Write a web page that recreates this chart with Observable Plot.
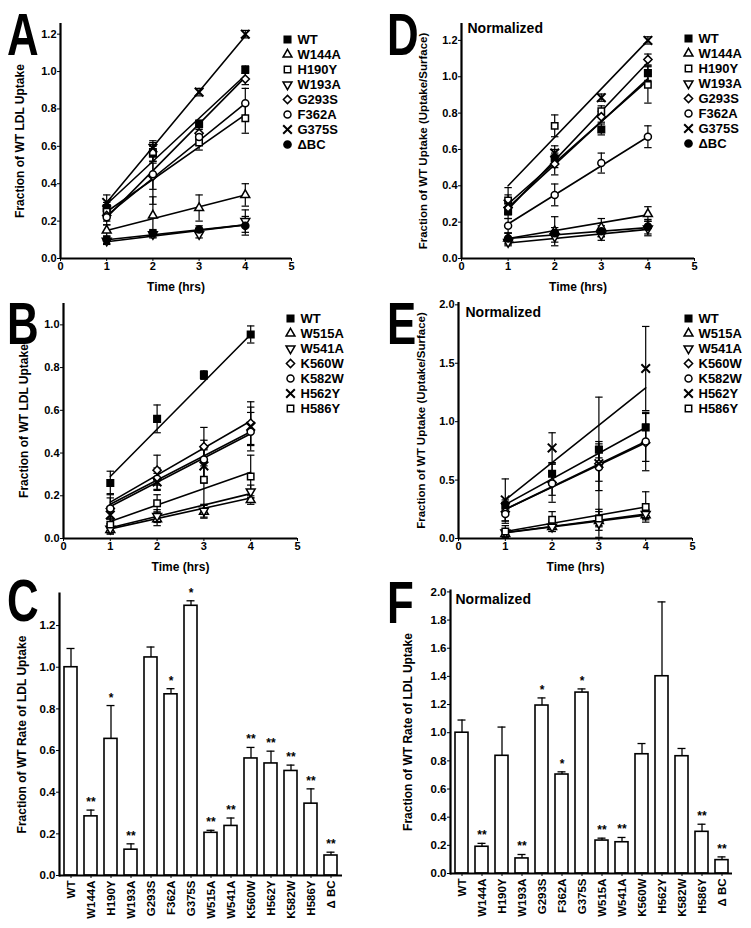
<!DOCTYPE html>
<html><head><meta charset="utf-8">
<script src="https://cdn.jsdelivr.net/npm/d3@7"></script>
<script src="https://cdn.jsdelivr.net/npm/@observablehq/plot@0.6"></script>
<style>
body{margin:0;background:#fff;}
#fig{position:relative;width:751px;height:928px;overflow:hidden;background:#fff;font-family:"Liberation Sans",Arial,sans-serif;}
.letter{position:absolute;font-weight:bold;font-size:60px;line-height:normal;transform-origin:0 0;transform:scaleX(0.73);color:#000;}
</style></head>
<body><div id="fig"></div>
<script>
// ---------------- DATA ----------------
const times = [1, 2, 3, 4];
const timeTicks = [0, 1, 2, 3, 4, 5];

// Panel A: Fraction of WT LDL uptake
const seriesA = ["WT", "W144A", "H190Y", "W193A", "G293S", "F362A", "G375S", "ΔBC"];
const meanA = [
  [0.27, 0.56, 0.72, 1.01],
  [0.15, 0.23, 0.27, 0.34],
  [0.25, 0.57, 0.62, 0.75],
  [0.095, 0.13, 0.13, 0.20],
  [0.23, 0.44, 0.67, 0.96],
  [0.22, 0.45, 0.65, 0.83],
  [0.30, 0.59, 0.89, 1.20],
  [0.10, 0.135, 0.155, 0.175]
];
const errA = [
  [0.03, 0.04, 0.02, 0.02],
  [0.03, 0.10, 0.07, 0.06],
  [0.03, 0.05, 0.04, 0.08],
  [0.02, 0.02, 0.02, 0.06],
  [0.03, 0.07, 0.03, 0.03],
  [0.04, 0.16, 0.04, 0.08],
  [0.04, 0.04, 0.02, 0.02],
  [0.02, 0.02, 0.02, 0.05]
];
const fitA = [
  [0.29, 0.98], [0.15, 0.34], [0.25, 0.77], [0.09, 0.18],
  [0.22, 0.97], [0.23, 0.83], [0.30, 1.19], [0.10, 0.18]
];
const yTicksA = [0, 0.2, 0.4, 0.6, 0.8, 1.0, 1.2];

// Panel D: normalized
const seriesD = ["WT", "W144A", "H190Y", "W193A", "G293S", "F362A", "G375S", "ΔBC"];
const meanD = [
  [0.26, 0.55, 0.71, 1.02],
  [0.11, 0.15, 0.17, 0.245],
  [0.32, 0.73, 0.81, 0.955],
  [0.09, 0.12, 0.13, 0.165],
  [0.28, 0.52, 0.78, 1.095],
  [0.18, 0.35, 0.525, 0.67],
  [0.30, 0.58, 0.885, 1.20],
  [0.11, 0.14, 0.15, 0.175]
];
const errD = [
  [0.04, 0.05, 0.03, 0.04],
  [0.03, 0.08, 0.05, 0.04],
  [0.07, 0.06, 0.03, 0.10],
  [0.02, 0.03, 0.03, 0.04],
  [0.04, 0.06, 0.03, 0.03],
  [0.04, 0.06, 0.055, 0.06],
  [0.05, 0.04, 0.02, 0.02],
  [0.03, 0.03, 0.03, 0.04]
];
const fitD = [
  [0.28, 0.99], [0.11, 0.24], [0.30, 0.98], [0.085, 0.16],
  [0.27, 1.08], [0.19, 0.67], [0.40, 1.20], [0.11, 0.17]
];
const yTicksD = [0, 0.2, 0.4, 0.6, 0.8, 1.0, 1.2];

// Panel B
const seriesB = ["WT", "W515A", "W541A", "K560W", "K582W", "H562Y", "H586Y"];
const meanB = [
  [0.26, 0.56, 0.765, 0.955],
  [0.04, 0.09, 0.125, 0.18],
  [0.045, 0.105, 0.13, 0.22],
  [0.14, 0.32, 0.43, 0.54],
  [0.14, 0.28, 0.37, 0.50],
  [0.11, 0.265, 0.34, 0.525],
  [0.065, 0.165, 0.275, 0.29]
];
const errB = [
  [0.055, 0.065, 0.02, 0.04],
  [0.02, 0.03, 0.03, 0.02],
  [0.02, 0.03, 0.03, 0.03],
  [0.07, 0.07, 0.09, 0.10],
  [0.05, 0.05, 0.09, 0.09],
  [0.04, 0.04, 0.08, 0.09],
  [0.03, 0.04, 0.14, 0.10]
];
const fitB = [
  [0.29, 0.955], [0.045, 0.19], [0.05, 0.21], [0.17, 0.55],
  [0.16, 0.50], [0.15, 0.49], [0.08, 0.31]
];
const yTicksB = [0, 0.2, 0.4, 0.6, 0.8, 1.0];

// Panel E: normalized
const seriesE = ["WT", "W515A", "W541A", "K560W", "K582W", "H562Y", "H586Y"];
const meanE = [
  [0.28, 0.555, 0.76, 0.95],
  [0.04, 0.10, 0.15, 0.20],
  [0.05, 0.10, 0.13, 0.21],
  [0.23, 0.48, 0.64, 0.82],
  [0.21, 0.47, 0.61, 0.83],
  [0.33, 0.775, 0.64, 1.455],
  [0.06, 0.16, 0.17, 0.27]
];
const errE = [
  [0.05, 0.08, 0.07, 0.12],
  [0.02, 0.04, 0.05, 0.04],
  [0.02, 0.04, 0.12, 0.04],
  [0.08, 0.17, 0.15, 0.16],
  [0.08, 0.10, 0.20, 0.25],
  [0.18, 0.13, 0.57, 0.36],
  [0.05, 0.07, 0.06, 0.13]
];
const fitE = [
  [0.29, 0.95], [0.05, 0.21], [0.05, 0.20], [0.25, 0.83],
  [0.25, 0.82], [0.33, 1.29], [0.06, 0.27]
];
const yTicksE = [0, 0.5, 1.0, 1.5, 2.0];

// Panels C & F: rates
const mutants = ["WT", "W144A", "H190Y", "W193A", "G293S", "F362A", "G375S", "W515A", "W541A", "K560W", "H562Y", "K582W", "H586Y", "Δ BC"];
const rateC = [1.00, 0.284, 0.656, 0.124, 1.047, 0.870, 1.295, 0.205, 0.238, 0.562, 0.538, 0.502, 0.345, 0.096];
const errC  = [0.09, 0.03, 0.16, 0.028, 0.05, 0.027, 0.024, 0.012, 0.038, 0.053, 0.059, 0.028, 0.071, 0.016];
const starsC = ["", "**", "*", "**", "", "*", "*", "**", "**", "**", "**", "**", "**", "**"];
const yTicksC = [0, 0.2, 0.4, 0.6, 0.8, 1.0, 1.2];
const rateF = [1.00, 0.19, 0.836, 0.107, 1.193, 0.703, 1.285, 0.234, 0.222, 0.847, 1.401, 0.833, 0.296, 0.095];
const errF  = [0.09, 0.024, 0.204, 0.028, 0.054, 0.019, 0.026, 0.017, 0.034, 0.076, 0.528, 0.055, 0.054, 0.023];
const starsF = ["", "**", "", "**", "*", "*", "*", "**", "**", "", "", "", "**", "**"];
const yTicksF = [0, 0.2, 0.4, 0.6, 0.8, 1.0, 1.2, 1.4, 1.6, 1.8, 2.0];

// ---------------- STYLE ----------------
const FONT = "'Liberation Sans', Arial, Helvetica, sans-serif";
const triDown = {draw(ctx, size) {
  const y = -Math.sqrt(size / (Math.sqrt(3) * 3));
  ctx.moveTo(0, -y * 2);
  ctx.lineTo(-Math.sqrt(3) * y, y);
  ctx.lineTo(Math.sqrt(3) * y, y);
  ctx.closePath();
}};
const capSym = {draw(ctx, size) {
  const w = Math.sqrt(size) / 2;
  ctx.moveTo(-w, 0); ctx.lineTo(w, 0);
}};
const markerStyle = {
  "WT":    {symbol: "square", fill: "black", r: 3.7},
  "W144A": {symbol: "triangle", fill: "white", r: 3.3},
  "H190Y": {symbol: "square", fill: "white", r: 3.6},
  "W193A": {symbol: triDown, fill: "white", r: 3.3},
  "G293S": {symbol: "diamond2", fill: "white", r: 3.7},
  "F362A": {symbol: "circle", fill: "white", r: 3.5},
  "G375S": {symbol: "times", fill: "none", r: 4.0},
  "ΔBC":   {symbol: "circle", fill: "black", r: 3.6},
  "W515A": {symbol: "triangle", fill: "white", r: 3.3},
  "W541A": {symbol: triDown, fill: "white", r: 3.3},
  "K560W": {symbol: "diamond2", fill: "white", r: 3.7},
  "K582W": {symbol: "circle", fill: "white", r: 3.5},
  "H562Y": {symbol: "times", fill: "none", r: 4.0},
  "H586Y": {symbol: "square", fill: "white", r: 3.6}
};

const fig = document.getElementById("fig");
function place(el, left, top) {
  el.style.position = "absolute";
  el.style.left = left + "px";
  el.style.top = top + "px";
  fig.appendChild(el);
}
function letter(ch, left, top) {
  const d = document.createElement("div");
  d.className = "letter";
  d.textContent = ch;
  d.style.left = left + "px";
  d.style.top = top + "px";
  fig.appendChild(d);
}
const baseStyle = {fontFamily: FONT, fontSize: "11px", fontWeight: "bold", background: "transparent", overflow: "visible", color: "black"};

function yAxes(ticks, label, offset, tickFont, labelFont) {
  return [
    Plot.axisY({ticks, tickFormat: d3.format(".1f"), tickSize: 3, tickPadding: 1, label: null, fontSize: tickFont}),
    Plot.axisY({ticks: [], tickSize: 0, label, labelAnchor: "center", labelArrow: "none", labelOffset: offset, fontSize: labelFont})
  ];
}

function linePanel(c) {
  const pts = [], fits = [];
  c.series.forEach((s, i) => {
    times.forEach((t, j) => pts.push({s, t, v: c.mean[i][j], e: c.err[i][j]}));
    fits.push({s, t: times[0], v: c.fit[i][0]}, {s, t: times[times.length - 1], v: c.fit[i][1]});
  });
  const marks = [
    Plot.ruleX(pts, {x: "t", y1: d => d.v - d.e, y2: d => d.v + d.e, stroke: "black", strokeWidth: 1.2}),
    Plot.dot(pts, {x: "t", y: d => d.v + d.e, symbol: capSym, r: 4.2, stroke: "black", fill: "none", strokeWidth: 1.2}),
    Plot.dot(pts, {x: "t", y: d => d.v - d.e, symbol: capSym, r: 4.2, stroke: "black", fill: "none", strokeWidth: 1.2}),
    Plot.line(fits, {x: "t", y: "v", z: "s", stroke: "black", strokeWidth: 1.6}),
    ...c.series.map(s => {
      const st = markerStyle[s];
      return Plot.dot(pts.filter(d => d.s === s), {x: "t", y: "v", symbol: st.symbol, r: st.r, fill: st.fill, stroke: "black", strokeWidth: st.fill === "none" ? 2 : 1.5});
    }),
    Plot.ruleX([0], {stroke: "black", strokeWidth: 2.2}),
    Plot.ruleY([0], {stroke: "black", strokeWidth: 2.2}),
    Plot.axisX({ticks: timeTicks, tickFormat: d3.format("d"), tickSize: 3, tickPadding: 1, label: null, fontSize: 11}),
    Plot.axisX({ticks: [], tickSize: 0, label: "Time (hrs)", labelAnchor: "center", labelArrow: "none", labelOffset: c.xLabelOffset, fontSize: 12}),
    ...yAxes(c.yTicks, c.yLabel, c.yLabelOffset, 11, c.yLabelFont || 12)
  ];
  if (c.note) marks.push(Plot.text([c.note], {frameAnchor: "top-left", dx: c.noteDx, dy: c.noteDy, textAnchor: "start", lineAnchor: "middle", fontSize: 14, fontWeight: "bold"}));
  const svg = Plot.plot({
    width: c.width, height: c.height,
    marginLeft: c.ml, marginRight: c.mr, marginTop: c.mt, marginBottom: c.mb,
    x: {domain: [0, 5]}, y: {domain: c.yDomain},
    style: baseStyle, marks
  });
  place(svg, c.left, c.top);
}

function legendPanel(series, left, top, width, height) {
  const svg = Plot.plot({
    width, height, marginLeft: 8, marginRight: 0, marginTop: 8, marginBottom: 8,
    x: {domain: [0, 1], axis: null}, y: {type: "point", domain: series, axis: null},
    style: {...baseStyle, fontSize: "13px"},
    marks: [
      ...series.map(s => {
        const st = markerStyle[s];
        return Plot.dot([s], {x: () => 0, y: d => d, symbol: st.symbol, r: st.r, fill: st.fill, stroke: "black", strokeWidth: st.fill === "none" ? 2 : 1.5});
      }),
      Plot.text(series, {x: () => 0, y: d => d, text: d => d, dx: 10, textAnchor: "start", fontSize: 13, fontWeight: "bold"})
    ]
  });
  place(svg, left, top);
}

function barPanel(c) {
  const data = mutants.map((m, i) => ({m, v: c.rate[i], e: c.err[i], s: c.stars[i]}));
  const marks = [
    Plot.barY(data, {x: "m", y: "v", fill: "white", stroke: "black", strokeWidth: 1.6}),
    Plot.ruleX(data, {x: "m", y1: "v", y2: d => d.v + d.e, stroke: "black", strokeWidth: 1.3}),
    Plot.tickY(data, {x: "m", y: d => d.v + d.e, insetLeft: 2.5, insetRight: 2.5, stroke: "black", strokeWidth: 1.3}),
    Plot.text(data, {x: "m", y: d => d.v + d.e, text: "s", dy: -4, lineAnchor: "bottom", fontSize: 12, fontWeight: "bold"}),
    Plot.ruleY([0], {stroke: "black", strokeWidth: 2.2}),
    Plot.frame({anchor: "left", stroke: "black", strokeWidth: 2.2}),
    Plot.axisX({tickRotate: -90, tickSize: 3, tickPadding: 2, label: null, fontSize: 11.5}),
    ...yAxes(c.yTicks, "Fraction of WT Rate of LDL Uptake", c.yLabelOffset, 11.5, 12)
  ];
  if (c.note) marks.push(Plot.text([c.note], {frameAnchor: "top-left", dx: c.noteDx, dy: c.noteDy, textAnchor: "start", lineAnchor: "middle", fontSize: 14, fontWeight: "bold"}));
  const svg = Plot.plot({
    width: c.width, height: c.height,
    marginLeft: c.ml, marginRight: c.mr, marginTop: c.mt, marginBottom: c.mb,
    x: {domain: mutants, paddingInner: 0.35, paddingOuter: 0.18},
    y: {domain: c.yDomain},
    style: {...baseStyle, fontSize: "11.5px"}, marks
  });
  place(svg, c.left, c.top);
}

// ---------------- BUILD ----------------
linePanel({series: seriesA, mean: meanA, err: errA, fit: fitA, yTicks: yTicksA, yDomain: [0, 1.257],
  yLabel: "Fraction of WT LDL Uptake", left: 0, top: 0, width: 300, height: 300,
  ml: 60, mr: 9, mt: 23, mb: 42, xLabelOffset: 32, yLabelOffset: 45});
legendPanel(seriesA, 279, 22, 100, 139);

linePanel({series: seriesD, mean: meanD, err: errD, fit: fitD, yTicks: yTicksD, yDomain: [0, 1.293],
  yLabel: "Fraction of WT Uptake (Uptake/Surface)", left: 380, top: 0, width: 330, height: 300,
  ml: 81, mr: 16, mt: 23, mb: 42, xLabelOffset: 32, yLabelOffset: 43, yLabelFont: 11.5,
  note: "Normalized", noteDx: 6, noteDy: 5});
legendPanel(seriesD, 680, 20, 71, 140);

linePanel({series: seriesB, mean: meanB, err: errB, fit: fitB, yTicks: yTicksB, yDomain: [0, 1.1],
  yLabel: "Fraction of WT LDL Uptake", left: 0, top: 290, width: 300, height: 290,
  ml: 63, mr: 3, mt: 13, mb: 42, xLabelOffset: 32, yLabelOffset: 44});
legendPanel(seriesB, 282, 302, 95, 121);

linePanel({series: seriesE, mean: meanE, err: errE, fit: fitE, yTicks: yTicksE, yDomain: [0, 2.02],
  yLabel: "Fraction of WT Uptake (Uptake/Surface)", left: 380, top: 290, width: 320, height: 290,
  ml: 78, mr: 8, mt: 12, mb: 42, xLabelOffset: 32, yLabelOffset: 42, yLabelFont: 11.5,
  note: "Normalized", noteDx: 7, noteDy: 10});
legendPanel(seriesE, 680, 302, 71, 121);

barPanel({rate: rateC, err: errC, stars: starsC, yTicks: yTicksC, yDomain: [0, 1.354],
  left: 0, top: 575, width: 375, height: 353, ml: 59, mr: 33, mt: 18, mb: 53, yLabelOffset: 42});

barPanel({rate: rateF, err: errF, stars: starsF, yTicks: yTicksF, yDomain: [0, 2.01],
  left: 380, top: 575, width: 371, height: 353, ml: 70, mr: 19, mt: 15, mb: 55, yLabelOffset: 47,
  note: "Normalized", noteDx: 5, noteDy: 9});

letter("A", 7, 0);
letter("D", 387, 0);
letter("B", 7, 289);
letter("E", 387, 289);
letter("C", 7, 566);
letter("F", 387, 568);
</script>
</body></html>
